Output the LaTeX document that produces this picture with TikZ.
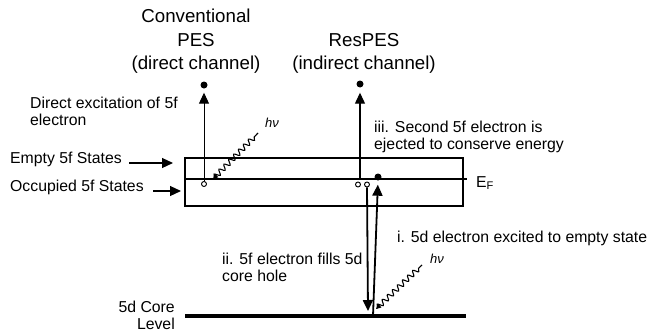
\documentclass[tikz,border=0pt]{standalone}
\usepackage{fontspec}
\setmainfont{Liberation Sans}
\usetikzlibrary{arrows.meta,decorations.pathmorphing}
\begin{document}
\begin{tikzpicture}[x=1pt,y=-1pt,
  txt/.style={font=\fontsize{15.8}{17}\selectfont, inner sep=0pt, align=left},
  head/.style={font=\fontsize{18.7}{23.5}\selectfont, inner sep=0pt, align=center},
  hvlab/.style={font=\fontsize{13}{14}\selectfont\itshape, inner sep=0pt},
  tipar/.style={-{Triangle[length=11pt,width=10pt]}},
  wave/.style={decorate, decoration={snake, segment length=7pt, amplitude=2.6pt, pre length=2pt, post length=2pt}, line width=1.1pt},
  edot/.style={circle, fill, inner sep=0pt, minimum size=7pt},
  hole/.style={circle, draw, fill=white, inner sep=0pt, minimum size=5pt, line width=0.9pt}]
\useasboundingbox (0,0) rectangle (649,332);

% headings
\node[head] (conv) at (196,41.5) {Conventional\\PES\\(direct channel)};
\node[head] (res) at (364,53.5) {ResPES\\(indirect channel)};

% band box, Fermi level, core level
\draw[line width=1.6pt] (185,158) rectangle (463,206);
\coordinate (efl) at (185,179);
\coordinate (efr) at (467,179);
\draw[line width=2.6pt] (efl) -- (efr);
\coordinate (corel) at (185,316);
\coordinate (corer) at (466,316);
\draw[line width=4.5pt] (corel) -- (corer);

% labels
\node[txt, anchor=west] (direct) at (30,111.5) {Direct excitation of 5f\\electron};
\node[txt, anchor=west] (empty) at (10,159) {Empty 5f States};
\node[txt, anchor=west] (occ) at (10,187) {Occupied 5f States};
\node[txt, anchor=west] (third) at (374,136.5) {iii. Second 5f electron is\\ejected to conserve energy};
\node[txt, anchor=west] (ef) at (476,183) {E\textsubscript{F}};
\node[txt, anchor=west] (first) at (397,238) {i. 5d electron excited to empty state};
\node[txt, anchor=west] (second) at (222,267) {ii. 5f electron fills 5d\\core hole};
\node[txt, anchor=east, align=right] (core) at (175,315.5) {5d Core\\Level};
\node[hvlab] (hv1) at (272,123) {hν};
\node[hvlab] (hv2) at (437,259) {hν};

% pointer arrows
\coordinate (ea1) at (129,163);
\coordinate (ea2) at (173,163);
\draw[tipar, line width=1.2pt] (ea1) -- (ea2);
\coordinate (oa1) at (153,191);
\coordinate (oa2) at (181,191);
\draw[tipar, line width=1.2pt] (oa1) -- (oa2);

% direct channel
\node[edot] (top1) at (204,85) {};
\node[hole] (h1) at (204,184) {};
\draw[tipar, line width=1pt, shorten >=4pt] (h1.north) -- (top1.south);
\coordinate (w1a) at (213,179);
\coordinate (w1b) at (258,133);
\draw[wave, {Triangle[length=5pt,width=5pt]}-] (w1a) -- (w1b);

% indirect channel
\node[edot] (top2) at (360,84) {};
\coordinate (ef2) at (360,179);
\draw[tipar, line width=1.2pt, shorten >=5pt] (ef2) -- (top2.south);
\node[hole] (h2) at (358,184.5) {};
\node[hole] (h3) at (367,184.5) {};
\node[edot] (e3) at (378,177) {};
\coordinate (c1) at (368,311);
\draw[tipar, line width=1.8pt] (h3.south) -- (c1);
\coordinate (c2) at (373,316);
\draw[tipar, line width=1.8pt, shorten >=4pt] (c2) -- (e3.south);
\coordinate (w2a) at (376,309);
\coordinate (w2b) at (422,265);
\draw[wave, {Triangle[length=5pt,width=5pt]}-] (w2a) -- (w2b);
\end{tikzpicture}
\end{document}
